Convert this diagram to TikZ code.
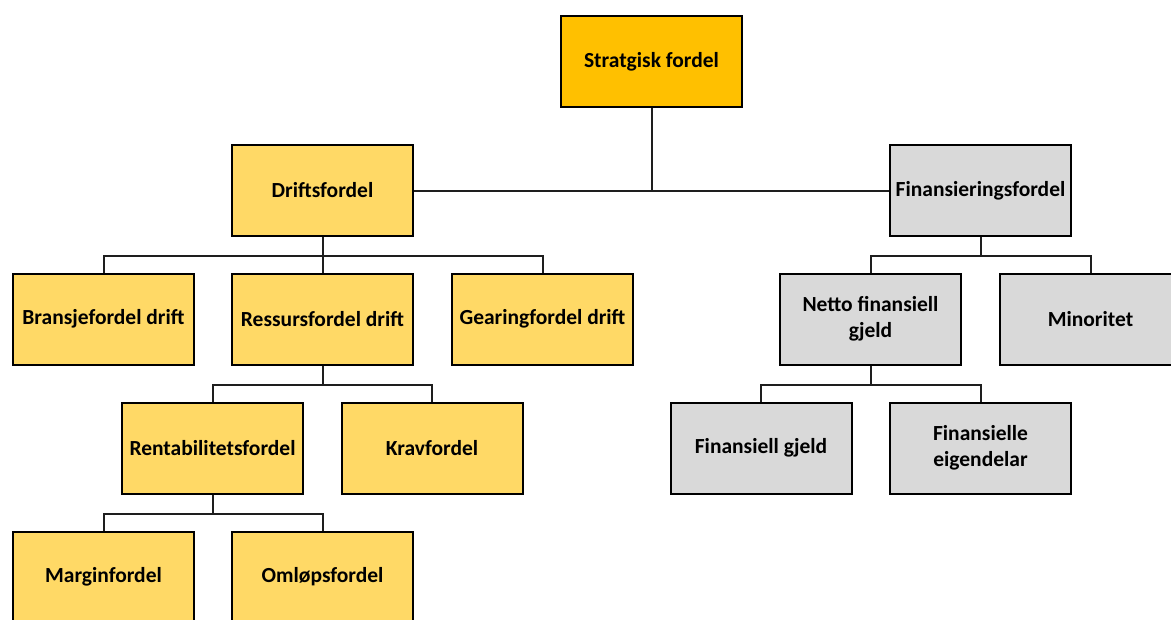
\documentclass[tikz,border=0pt]{standalone}
\usepackage{fontspec}
\setmainfont{Carlito}
\begin{document}
\begin{tikzpicture}[x=1pt,y=-1pt,
  box/.style={draw=black, line width=2pt, minimum width=181pt, minimum height=91pt,
    inner sep=2pt, align=center, font=\fontsize{21.5}{26}\selectfont\bfseries, text=black},
  topbox/.style={box, fill={rgb,255:red,255;green,192;blue,0}},
  drift/.style={box, fill={rgb,255:red,255;green,217;blue,102}},
  fin/.style={box, fill={rgb,255:red,217;green,217;blue,217}},
  link/.style={draw={rgb,255:red,30;green,30;blue,30}, line width=2pt}]
\useasboundingbox (0,0) rectangle (1171,619);
\fill[white] (0,0) rectangle (1171,619);

% root
\node[topbox] (root) at (651.5,61.5) {Stratgisk fordel};

% first level
\node[drift] (drift) at (322.5,190.5) {Driftsfordel};
\node[fin]   (finans) at (980.5,190.5) {Finansieringsfordel};

% operating branch
\node[drift] (bransje) at (103.5,319) {Bransjefordel drift};
\node[drift] (ressurs) at (322.5,319) {Ressursfordel drift};
\node[drift] (gearing) at (542.5,319) {Gearingfordel drift};
\node[drift] (rentab) at (212.5,448) {Rentabilitetsfordel};
\node[drift] (krav)   at (432,448) {Kravfordel};
\node[drift] (margin) at (103.5,577) {Marginfordel};
\node[drift] (omlop)  at (322.5,577) {Omløpsfordel};

% financing branch
\node[fin] (netto)  at (870.5,319) {Netto finansiell\\gjeld};
\node[fin] (minor)  at (1090.5,319) {Minoritet};
\node[fin] (fgjeld) at (761,448) {Finansiell gjeld};
\node[fin] (feig)   at (980.5,448) {Finansielle\\eigendelar};

% connectors
\coordinate (mid) at (root.south |- drift.east);
\draw[link] (root.south) -- (mid);
\draw[link] (drift.east) -- (finans.west);

\draw[link] (drift.south) -- ++(0,19) -| (bransje.north);
\draw[link] (drift.south) -- ++(0,19) -| (gearing.north);
\draw[link] (drift.south) -- (ressurs.north);

\draw[link] (ressurs.south) -- ++(0,19.5) -| (rentab.north);
\draw[link] (ressurs.south) -- ++(0,19.5) -| (krav.north);

\draw[link] (rentab.south) -- ++(0,19.5) -| (margin.north);
\draw[link] (rentab.south) -- ++(0,19.5) -| (omlop.north);

\draw[link] (finans.south) -- ++(0,19) -| (netto.north);
\draw[link] (finans.south) -- ++(0,19) -| (minor.north);

\draw[link] (netto.south) -- ++(0,19.5) -| (fgjeld.north);
\draw[link] (netto.south) -- ++(0,19.5) -| (feig.north);
\end{tikzpicture}
\end{document}
